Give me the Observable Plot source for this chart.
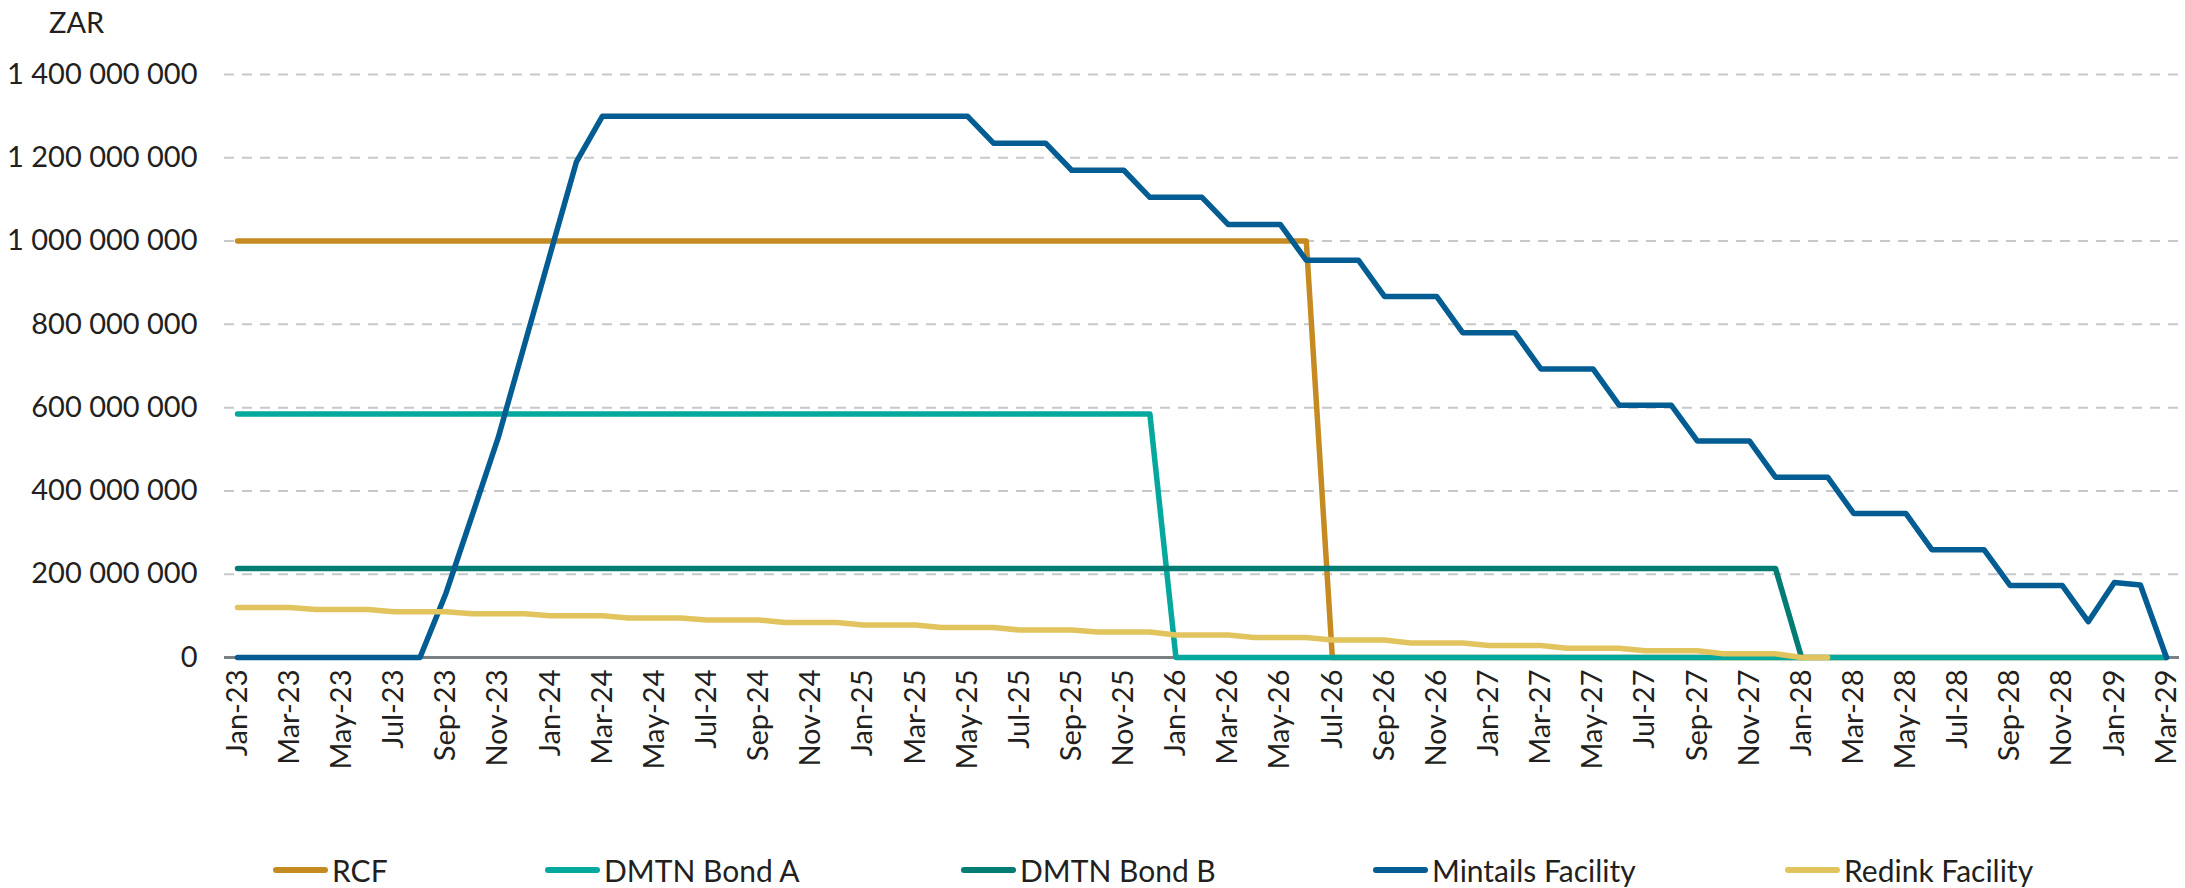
<!DOCTYPE html>
<html>
<head>
<meta charset="utf-8">
<script src="https://cdn.jsdelivr.net/npm/d3@7"></script>
<script src="https://cdn.jsdelivr.net/npm/@observablehq/plot@0.6"></script>
<style>
  html, body { margin: 0; padding: 0; background: #fff; }
  body { width: 2185px; height: 888px; position: relative; overflow: hidden; font-family: Lato, "Open Sans", sans-serif; color: #231f20; }
  #unit { position: absolute; left: 49px; top: 4px; font-size: 29px; line-height: 36px; }
  #chart { position: absolute; left: 0; top: 0; }
  .item { position: absolute; top: 852px; display: flex; align-items: center; font-size: 30px; line-height: 36px; white-space: nowrap; }
  .sw { width: 55px; height: 6px; border-radius: 3px; margin-right: 4px; }
</style>
</head>
<body>
<div id="chart"></div>
<div id="unit">ZAR</div>
<div id="legend"></div>
<script>
// ---- Data (ZAR millions, monthly Jan-23 .. Mar-29) ----
const seriesNames = ["RCF", "DMTN Bond A", "DMTN Bond B", "Mintails Facility", "Redink Facility"];
const seriesColors = ["#c58b22", "#04a89d", "#037c74", "#035d92", "#e1c45e"];
const legendLefts = [273, 545, 961, 1373, 1785];

const rcf = [
  1000,1000,1000,1000,1000,1000,1000,1000,1000,1000,1000,1000,
  1000,1000,1000,1000,1000,1000,1000,1000,1000,1000,1000,1000,
  1000,1000,1000,1000,1000,1000,1000,1000,1000,1000,1000,1000,
  1000,1000,1000,1000,1000,1000,0,0,0,0,0,0,
  0,0,0,0,0,0,0,0,0,0,0,0,
  0,0,0,0,0,0,0,0,0,0,0,0,
  0,0,0
];
const bondA = [
  585,585,585,585,585,585,585,585,585,585,585,585,
  585,585,585,585,585,585,585,585,585,585,585,585,
  585,585,585,585,585,585,585,585,585,585,585,585,
  0,0,0,0,0,0,0,0,0,0,0,0,
  0,0,0,0,0,0,0,0,0,0,0,0,
  0,0,0,0,0,0,0,0,0,0,0,0,
  0,0,0
];
const bondB = [
  214,214,214,214,214,214,214,214,214,214,214,214,
  214,214,214,214,214,214,214,214,214,214,214,214,
  214,214,214,214,214,214,214,214,214,214,214,214,
  214,214,214,214,214,214,214,214,214,214,214,214,
  214,214,214,214,214,214,214,214,214,214,214,214,
  0
];
const mintails = [
  0,0,0,0,0,0,0,0,155,341,528,749,
  970,1190,1300,1300,1300,1300,1300,1300,1300,1300,1300,1300,
  1300,1300,1300,1300,1300,1235,1235,1235,1170,1170,1170,1105,
  1105,1105,1040,1040,1040,954,954,954,867,867,867,780,
  780,780,693,693,693,606,606,606,520,520,520,433,
  433,433,346,346,346,259,259,259,173,173,173,86,
  180,174,0
];
const redink = [
  120,120,120,115,115,115,110,110,110,105,105,105,
  100,100,100,95,95,95,90,90,90,84,84,84,
  78,78,78,72,72,72,66,66,66,61,61,61,
  54,54,54,48,48,48,42,42,42,35,35,35,
  29,29,29,22,22,22,16,16,16,9,9,9,
  0,0
];
const yTicks = [0, 200e6, 400e6, 600e6, 800e6, 1000e6, 1200e6, 1400e6];

// months (categories) and tick labels
const months = d3.utcMonth.range(new Date(Date.UTC(2023, 0, 1)), new Date(Date.UTC(2029, 3, 1)));
const monthLabels = months.map(d3.utcFormat("%b-%y"));
const xTickIdx = monthLabels.map((_, i) => i).filter(i => i % 2 === 0);

const seriesValues = [rcf, bondA, bondB, mintails, redink];
const table = [];
seriesValues.forEach((vals, s) => {
  vals.forEach((v, i) => table.push({ series: seriesNames[s], i, value: v * 1e6 }));
});

const fmt = d3.formatLocale({ decimal: ".", thousands: " ", grouping: [3], currency: ["", ""] }).format(",");

const chart = Plot.plot({
  width: 2185,
  height: 800,
  marginLeft: 224,
  marginRight: 6,
  marginTop: 74,
  marginBottom: 143,
  style: { fontFamily: "Lato, 'Open Sans', sans-serif", fontSize: "29px", color: "#231f20", background: "transparent", overflow: "visible" },
  x: { type: "linear", domain: [-0.5, 74.5], axis: null },
  y: { domain: [0, 1.4e9], axis: null },
  color: { domain: seriesNames, range: seriesColors },
  marks: [
    Plot.gridY(yTicks.filter(d => d > 0), { stroke: "#c6c8ca", strokeOpacity: 1, strokeWidth: 2, strokeDasharray: "10,8" }),
    Plot.axisY(yTicks, { tickSize: 0, tickPadding: 27, tickFormat: fmt, fontSize: 29, fill: "#231f20", label: null }),
    Plot.ruleY([0], { stroke: "#7b8083", strokeWidth: 3 }),
    Plot.axisX(xTickIdx, { tickSize: 0, tickPadding: 12, tickRotate: -90, tickFormat: i => monthLabels[i], fontSize: 29, fill: "#231f20", label: null }),
    Plot.line(table, { x: "i", y: "value", z: "series", stroke: "series", strokeWidth: 5.5, strokeLinecap: "round", strokeLinejoin: "round" })
  ]
});
document.getElementById("chart").appendChild(chart);

const legend = document.getElementById("legend");
seriesNames.forEach((name, k) => {
  const item = document.createElement("div");
  item.className = "item";
  item.style.left = legendLefts[k] + "px";
  const sw = document.createElement("span");
  sw.className = "sw";
  sw.style.background = seriesColors[k];
  const tx = document.createElement("span");
  tx.textContent = name;
  item.appendChild(sw);
  item.appendChild(tx);
  legend.appendChild(item);
});
</script>
</body>
</html>
